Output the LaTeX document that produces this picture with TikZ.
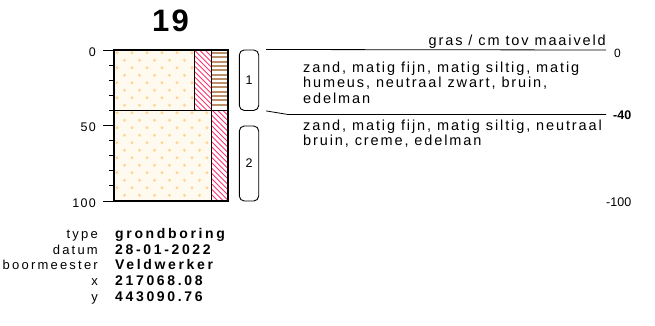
\documentclass[tikz,border=0pt]{standalone}
\usepackage{fontspec}
\setmainfont{Liberation Sans}
\usetikzlibrary{positioning}
\definecolor{sandbg}{HTML}{FFFAF0}
\definecolor{sanddot}{HTML}{FFD596}
\definecolor{hatchred}{HTML}{FF3370}
\definecolor{humbrown}{HTML}{BB8D69}

\begin{document}
\begin{tikzpicture}[x=1pt,y=-1pt,
  outline/.style={line width=1.5pt},
  laag/.style={draw,line width=0.9pt,rounded corners=5pt,minimum width=19.4pt,inner sep=0pt,
    font=\fontsize{12.5}{14}\selectfont},
  tick/.style={inner sep=0pt,anchor=east,font=\fontsize{12.5}{14}\selectfont\addfontfeature{LetterSpace=10}},
  desc/.style={inner sep=0pt,anchor=base west,font=\fontsize{14.5}{16}\selectfont\addfontfeature{LetterSpace=13}},
  meta/.style={inner sep=0pt,anchor=base east,font=\fontsize{13}{15}\selectfont\addfontfeature{LetterSpace=17}},
  val/.style={inner sep=0pt,anchor=base west,font=\fontsize{14}{16}\selectfont\bfseries\addfontfeature{LetterSpace=19}},
]
\useasboundingbox (0,0) rectangle (655,325);

\node[font=\fontsize{31}{33}\selectfont\bfseries\addfontfeature{LetterSpace=8}] (nummer) at (170.5,20.5) {19};

% zand
\fill[sandbg] (114,50) rectangle (194.5,110.5) (114,110.5) rectangle (211,201);
\begin{scope}
\clip (114,50) rectangle (194.5,110.5) (114,110.5) rectangle (211,201);
\foreach \r in {0,...,20}
  \foreach \c in {0,...,6}
    \fill[sanddot] ({117+15*\c+7.5*mod(\r,2)},{52.7+7.5*\r}) circle (1.6pt);
\end{scope}

% silt
\begin{scope}
\clip (194.5,50) rectangle (211,110.5) (211,110.5) rectangle (228,201);
\foreach \a in {20,25.3,...,232}
  \draw[hatchred,line width=0.9pt] (\a,40) -- ({\a+170},210);
\end{scope}

% humus
\foreach \yy in {53,57.3,...,108}
  \draw[humbrown,line width=2pt] (211,\yy) -- (228,\yy);

\draw[line width=0.7pt] (194.5,50) -- (194.5,110.5);
\draw[line width=0.7pt] (211,50) -- (211,201);
\draw[outline] (114,110.5) -- (228,110.5);
\draw[outline] (114,50) rectangle (228,201);

\foreach \d in {0,10,...,100}
  \draw[line width=1pt] (109,{50+1.51*\d}) -- (114,{50+1.51*\d});
\foreach \d in {0,50,100}
  \draw[line width=1pt] (103,{50+1.51*\d}) -- (109,{50+1.51*\d});
\node[tick] (d0) at (96,52) {0};
\node[tick] (d50) at (96,127.5) {50};
\node[tick] (d100) at (96,203) {100};

\node[laag,minimum height=60.5pt] (laag1) at (249,80.2) {1};
\node[laag,minimum height=75pt] (laag2) at (249,163.5) {2};

\coordinate (r0) at (606,50);
\coordinate (k40) at (288,114.5);
\coordinate (r40) at (606,114.5);
\draw[line width=0.8pt] ([xshift=7pt]laag1.north east) -- (r0);
\draw[line width=0.8pt] ([xshift=7pt]laag1.south east) -- (k40) -- (r40);

\node[desc,anchor=base east] (maaiveld) at (606,45) {gras / cm tov maaiveld};
\node[desc] (oms1a) at (303,72.3) {zand, matig fijn, matig siltig, matig};
\node[desc] (oms1b) at (303,87.9) {humeus, neutraal zwart, bruin,};
\node[desc] (oms1c) at (303,103.5) {edelman};
\node[desc] (oms2a) at (303,130) {zand, matig fijn, matig siltig, neutraal};
\node[desc] (oms2b) at (303,145.6) {bruin, creme, edelman};

\node[inner sep=0pt,anchor=west,font=\fontsize{12}{14}\selectfont] (n0) at (614,53) {0};
\node[inner sep=0pt,anchor=west,font=\fontsize{12.5}{14}\selectfont\bfseries] (n40) at (613,115.5) {-40};
\node[inner sep=0pt,anchor=west,font=\fontsize{12.5}{14}\selectfont] (n100) at (606,202.3) {-100};

\node[meta] (ktype) at (98,238.5) {type};
\node[meta] (kdatum) at (98,254.2) {datum};
\node[meta] (kmeester) at (98,269.9) {boormeester};
\node[meta] (kx) at (98,285.6) {x};
\node[meta] (ky) at (98,301.3) {y};
\node[val] (vtype) at (115,238.5) {grondboring};
\node[val] (vdatum) at (115,254.2) {28-01-2022};
\node[val] (vmeester) at (115,269.9) {Veldwerker};
\node[val] (vx) at (115,285.6) {217068.08};
\node[val] (vy) at (115,301.3) {443090.76};

\end{tikzpicture}
\end{document}
